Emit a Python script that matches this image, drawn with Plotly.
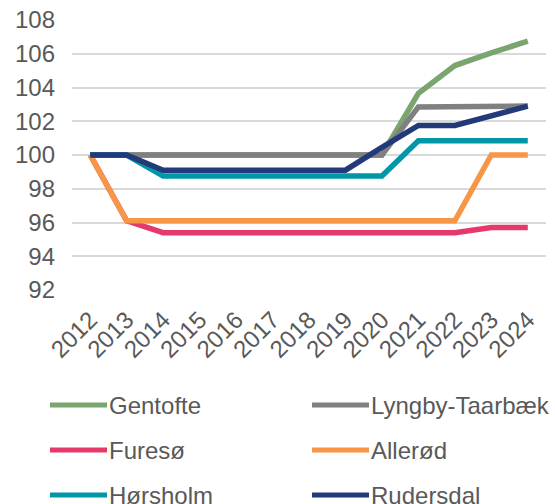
import plotly.graph_objects as go

years = [str(y) for y in range(2012, 2025)]

gentofte = [100, 100, 100, 100, 100, 100, 100, 100, 100, 103.65, 105.3, 106.05, 106.75]
lyngby = [100, 100, 100, 100, 100, 100, 100, 100, 100, 102.85, 102.85, 102.85, 102.9]
furesoe = [100, 96.1, 95.4, 95.4, 95.4, 95.4, 95.4, 95.4, 95.4, 95.4, 95.4, 95.7, 95.7]
alleroed = [100, 96.1, 96.1, 96.1, 96.1, 96.1, 96.1, 96.1, 96.1, 96.1, 96.1, 100, 100]
hoersholm = [100, 100, 98.75, 98.75, 98.75, 98.75, 98.75, 98.75, 98.75, 100.85, 100.85, 100.85, 100.85]
rudersdal = [100, 100, 99.1, 99.1, 99.1, 99.1, 99.1, 99.1, 100.45, 101.75, 101.75, 102.3, 102.9]

names = ['Gentofte', 'Lyngby-Taarbæk', 'Furesø', 'Allerød', 'Hørsholm', 'Rudersdal']
series = [gentofte, lyngby, furesoe, alleroed, hoersholm, rudersdal]
colors = ['#7BA56E', '#808080', '#E5396A', '#F79646', '#0097A9', '#233A7A']

W, H = 555, 504
L, R, T, B = 72, 9, 20, 214
pw, ph = W - L - R, H - T - B

fig = go.Figure()
for name, vals, col in zip(names, series, colors):
    fig.add_trace(go.Scatter(
        x=years, y=vals, name=name, mode='lines',
        line=dict(color=col, width=5.5),
        showlegend=False
    ))

# legend drawn by hand: two columns, three rows
for i, (name, col) in enumerate(zip(names, colors)):
    px0 = 50 if i % 2 == 0 else 312
    py = 405 + 45 * (i // 2)
    yp = (H - B - py) / ph
    fig.add_shape(type='line', xref='paper', yref='paper',
                  x0=(px0 - L) / pw, x1=(px0 + 57 - L) / pw, y0=yp, y1=yp,
                  line=dict(color=col, width=5))
    fig.add_annotation(xref='paper', yref='paper', x=(px0 + 57 - L) / pw, y=yp,
                       text=name, showarrow=False, xanchor='left', yanchor='middle',
                       font=dict(size=24, color='#595959'))

fig.update_layout(
    width=W, height=H,
    margin=dict(l=L, r=R, t=T, b=B),
    plot_bgcolor='white', paper_bgcolor='white',
    font=dict(family='Liberation Sans, Arial, sans-serif', size=24, color='#595959'),
    xaxis=dict(type='category', range=[-0.5, 12.5], tickangle=-45, automargin=False,
               ticklabelstandoff=10,
               showgrid=False, showline=False, ticks='', ticklen=0),
    yaxis=dict(range=[92, 108], dtick=2, showgrid=True, gridcolor='#D9D9D9', automargin=False,
               ticklabelstandoff=16,
               gridwidth=1.5, zeroline=False, showline=False, ticks='', ticklen=0),
)

fig.write_html("out.html", config={'displayModeBar': False},
               post_script="document.body.style.margin='0';")
